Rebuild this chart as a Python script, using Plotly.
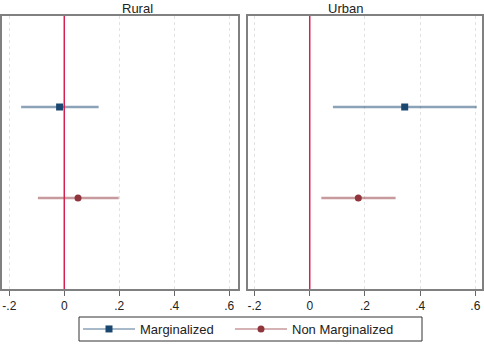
import plotly.graph_objects as go

panels = ["Rural", "Urban"]
series = ["Marginalized", "Non Marginalized"]
# estimates and CI per panel: [Marginalized, Non Marginalized]
est = {"Rural": [-0.017, 0.050], "Urban": [0.344, 0.176]}
lo = {"Rural": [-0.157, -0.096], "Urban": [0.084, 0.042]}
hi = {"Rural": [0.125, 0.198], "Urban": [0.605, 0.311]}
ypos = [1, 2]
tickvals = [-0.2, 0, 0.2, 0.4, 0.6]
ticktext = ["-.2", "0", ".2", ".4", ".6"]

marker_colors = ["#1a476f", "#90353b"]
line_colors = ["rgba(26,71,111,0.5)", "rgba(144,53,59,0.5)"]
symbols = ["square", "circle"]
legend_ids = ["legend", "legend2"]

W, H = 484, 344
fig = go.Figure()

xdomains = [[2 / W, 238 / W], [248 / W, 482 / W]]
xranges = [[-0.2266, 0.632], [-0.2236, 0.624]]
ydom = [1 - 289 / H, 1 - 16 / H]

for p, panel in enumerate(panels):
    xa = "x" if p == 0 else "x2"
    ya = "y" if p == 0 else "y2"
    for s, name in enumerate(series):
        fig.add_trace(go.Scatter(
            x=[lo[panel][s], hi[panel][s]], y=[ypos[s], ypos[s]],
            mode="lines", line=dict(color=line_colors[s], width=2.5),
            showlegend=False, hoverinfo="skip", xaxis=xa, yaxis=ya))
        fig.add_trace(go.Scatter(
            x=[est[panel][s]], y=[ypos[s]], name=name,
            mode="lines+markers",
            line=dict(color=line_colors[s], width=1.5),
            marker=dict(color=marker_colors[s], size=7, symbol=symbols[s]),
            showlegend=(p == 0), legend=legend_ids[s], xaxis=xa, yaxis=ya))
    fig.add_shape(type="line", xref=xa, yref="paper", x0=0, x1=0,
                  y0=ydom[0], y1=ydom[1], line=dict(color="#d62050", width=1.5))
    fig.add_annotation(text=panel, xref="paper", yref="paper",
                       x=sum(xdomains[p]) / 2, y=1 - 8 / H, showarrow=False,
                       font=dict(size=13, color="#222"), yanchor="middle")

# legend frame
fig.add_shape(type="rect", xref="paper", yref="paper",
              x0=79 / W, x1=422 / W, y0=1 - 341 / H, y1=1 - 317 / H,
              line=dict(color="#333", width=1), fillcolor="rgba(0,0,0,0)")

axis_common = dict(tickvals=tickvals, ticktext=ticktext, ticks="outside",
                   ticklen=5, tickcolor="#666", showline=True, mirror=True,
                   linecolor="#808080", linewidth=1.5, showgrid=True,
                   gridcolor="#e2e2e2", griddash="dot", gridwidth=1,
                   zeroline=False, automargin=False,
                   tickfont=dict(size=12, color="#222"))
yaxis_common = dict(range=[3, 0], showticklabels=False, ticks="", showgrid=False,
                    zeroline=False, showline=True, mirror=True, automargin=False,
                    linecolor="#808080", linewidth=1.5, domain=ydom)

legend_common = dict(orientation="h", y=1 - 329 / H, xanchor="left",
                     yanchor="middle", borderwidth=0, font=dict(size=13),
                     itemwidth=52, bgcolor="rgba(0,0,0,0)")

fig.update_layout(
    width=W, height=H,
    margin=dict(l=0, r=0, t=0, b=0, autoexpand=False),
    paper_bgcolor="white", plot_bgcolor="white",
    font=dict(family="Liberation Sans, Arial, sans-serif", color="#222"),
    xaxis=dict(domain=xdomains[0], range=xranges[0], anchor="y", **axis_common),
    xaxis2=dict(domain=xdomains[1], range=xranges[1], anchor="y2", **axis_common),
    yaxis=dict(anchor="x", **yaxis_common),
    yaxis2=dict(anchor="x2", **yaxis_common),
    legend=dict(x=78 / W, **legend_common),
    legend2=dict(x=230 / W, **legend_common),
    showlegend=True,
)

fig.write_html("out.html", config={"displayModeBar": False},
               post_script="document.body.style.margin='0';")
